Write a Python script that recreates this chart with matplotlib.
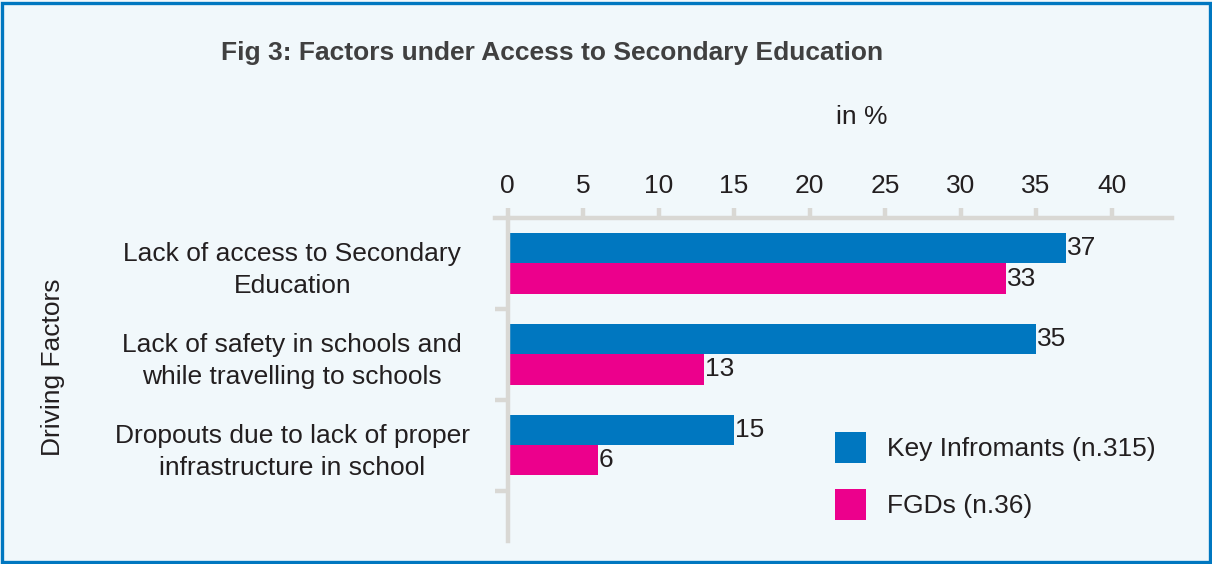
import matplotlib
matplotlib.use("Agg")
import matplotlib.pyplot as plt
from matplotlib.patches import Patch, Rectangle

plt.rcParams["font.family"] = ["Liberation Sans", "DejaVu Sans"]

# ----------------- Data -----------------
factors = [
    "Lack of access to Secondary\nEducation",
    "Lack of safety in schools and\nwhile travelling to schools",
    "Dropouts due to lack of proper\ninfrastructure in school",
]
key_informants = [37, 35, 15]
fgds = [33, 13, 6]
series_names = ["Key Infromants (n.315)", "FGDs (n.36)"]
x_ticks = [0, 5, 10, 15, 20, 25, 30, 35, 40]

# ----------------- Style -----------------
BG = "#f1f8fb"
BLUE = "#0077c0"
PINK = "#ec008c"
GRID = "#d9d8d4"
TEXT = "#231f20"
FS = 19
W, H = 1212, 564

fig = plt.figure(figsize=(W / 100, H / 100), dpi=100, facecolor=BG)
ax = fig.add_axes([495 / W, 1 - 541 / H, (1172 - 495) / W, (541 - 218) / H])
ax.set_facecolor("none")

# frame around the whole figure
fig.patches.append(Rectangle((2.5 / W, 2.5 / H), 1 - 5 / W, 1 - 5 / H,
                             transform=fig.transFigure, fill=False,
                             edgecolor=BLUE, linewidth=2.4))

# bars
bh = 0.33
ypos = list(range(len(factors)))
ax.barh([y - bh / 2 for y in ypos], key_informants, height=bh, color=BLUE, label=series_names[0])
ax.barh([y + bh / 2 for y in ypos], fgds, height=bh, color=PINK, label=series_names[1])

for y, v in zip(ypos, key_informants):
    ax.text(v + 0.05, y - bh / 2, str(v), va="center", ha="left", fontsize=FS, color=TEXT)
for y, v in zip(ypos, fgds):
    ax.text(v + 0.05, y + bh / 2, str(v), va="center", ha="left", fontsize=FS, color=TEXT)

ax.set_xlim(-0.83, 44)
ax.set_ylim(3.05, -0.5)

# axes styling
for s in ["right", "bottom"]:
    ax.spines[s].set_visible(False)
ax.spines["top"].set_color(GRID)
ax.spines["top"].set_linewidth(3.2)
ax.spines["left"].set_color(GRID)
ax.spines["left"].set_linewidth(3.2)
ax.spines["left"].set_position(("data", 0))

ax.xaxis.tick_top()
ax.set_xticks(x_ticks)
ax.tick_params(axis="x", direction="out", length=7.5, width=3.2, color=GRID,
               labelsize=FS, labelcolor=TEXT, pad=7)

ax.set_yticks(ypos)
ax.set_yticklabels(factors, ha="center", linespacing=1.4)
ax.set_yticks([0.5, 1.5, 2.5], minor=True)
ax.tick_params(axis="y", which="major", length=0, labelsize=FS, labelcolor=TEXT, pad=155)
ax.tick_params(axis="y", which="minor", direction="out", length=9.5, width=3.2, color=GRID)

# titles
fig.text(552 / W, 1 - 53 / H, "Fig 3: Factors under Access to Secondary Education",
         ha="center", va="center", fontsize=FS, fontweight="bold", color="#404040")
fig.text(862 / W, 1 - 117 / H, "in %", ha="center", va="center", fontsize=FS, color=TEXT)
fig.text(53 / W, 1 - 367 / H, "Driving Factors", ha="center", va="center",
         rotation=90, fontsize=FS, color=TEXT)

# legend
handles = [Patch(facecolor=BLUE), Patch(facecolor=PINK)]
fig.legend(handles, series_names, loc="upper left", bbox_to_anchor=(835 / W, 1 - 432 / H),
           frameon=False, fontsize=FS, borderpad=0, borderaxespad=0,
           handlelength=1.17, handleheight=1.43, handletextpad=0.8,
           labelspacing=0.98, labelcolor=TEXT)

plt.savefig("out.png", dpi=100, facecolor=BG)
plt.close(fig)
